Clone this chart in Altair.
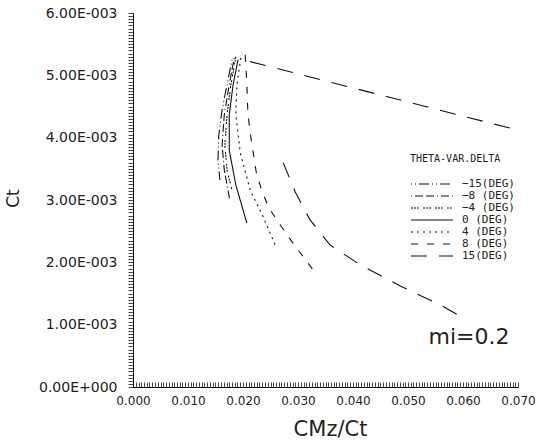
import altair as alt
import pandas as pd

# ---- data ----
series_labels = ["\u221215(DEG)", "\u22128\u00a0(DEG)", "\u22124\u00a0(DEG)",
                 "\u00a00\u00a0(DEG)", "\u00a04\u00a0(DEG)", "\u00a08\u00a0(DEG)", "\u00a015(DEG)"]

m15_x = [0.0180, 0.0171, 0.0162, 0.0156, 0.01545, 0.0158]
m15_y = [0.00525, 0.00485, 0.00445, 0.00404, 0.00364, 0.00332]
m8_x = [0.0184, 0.0175, 0.0166, 0.0162, 0.0166, 0.0176]
m8_y = [0.00528, 0.00485, 0.00437, 0.00388, 0.00348, 0.00300]
m4_x = [0.0187, 0.0178, 0.0171, 0.0167, 0.0171, 0.0180]
m4_y = [0.00530, 0.00485, 0.00437, 0.00388, 0.00348, 0.00316]
d0_x = [0.0191, 0.0182, 0.0175, 0.0175, 0.0187, 0.0207]
d0_y = [0.00525, 0.00485, 0.00437, 0.00380, 0.00324, 0.00263]
d4_x = [0.0196, 0.0189, 0.0187, 0.0195, 0.0213, 0.0235, 0.0260]
d4_y = [0.00528, 0.00485, 0.00437, 0.00376, 0.00316, 0.00276, 0.00225]
d8_x = [0.0204, 0.0207, 0.0209, 0.0215, 0.0224, 0.0233, 0.0246, 0.0266, 0.0285, 0.0306, 0.0329]
d8_y = [0.00533, 0.00485, 0.00437, 0.00396, 0.00345, 0.00318, 0.00289, 0.00262, 0.00238, 0.00213, 0.00186]
d15_upper_x = [0.0213, 0.0700]
d15_upper_y = [0.00522, 0.00412]
d15_lower_x = [0.0273, 0.0295, 0.0322, 0.0358, 0.0413, 0.0486, 0.0558, 0.0598]
d15_lower_y = [0.00360, 0.00313, 0.00268, 0.00228, 0.00196, 0.00162, 0.00132, 0.00112]

y_tick_labels = ["0.00E+000", "1.00E-003", "2.00E-003", "3.00E-003",
                 "4.00E-003", "5.00E-003", "6.00E-003"]
x_major = [0.0, 0.01, 0.02, 0.03, 0.04, 0.05, 0.06, 0.07]
x_tick_labels = ["0.000", "0.010", "0.020", "0.030", "0.040", "0.050", "0.060", "0.070"]

note_text = ["mi=0.2"]
note_x = [0.0611]
note_y = [0.00080]

# ---- build table ----
pieces = [
    (series_labels[0], "a", m15_x, m15_y),
    (series_labels[1], "a", m8_x, m8_y),
    (series_labels[2], "a", m4_x, m4_y),
    (series_labels[3], "a", d0_x, d0_y),
    (series_labels[4], "a", d4_x, d4_y),
    (series_labels[5], "a", d8_x, d8_y),
    (series_labels[6], "a", d15_upper_x, d15_upper_y),
    (series_labels[6], "b", d15_lower_x, d15_lower_y),
]
rows = []
for name, piece, xs, ys in pieces:
    for i, (xv, yv) in enumerate(zip(xs, ys)):
        rows.append({"series": name, "piece": name + piece, "idx": i, "x": xv, "y": yv})
df = pd.DataFrame(rows)

dashes = [[1, 3, 1, 3, 10, 3], [1, 3, 8, 3, 8, 3], [2, 1, 2, 1, 2, 4],
          [1, 0], [2, 4], [7, 9], [16, 12]]

# tick positions of the dense axis combs
y_ticks = [round(i * 0.00005, 6) for i in range(121)]
x_minor = [round(i * 0.0005, 6) for i in range(141)]

ylab_js = "[" + ",".join("'%s'" % s for s in y_tick_labels) + "]"
xlab_js = "[" + ",".join("'%s'" % s for s in x_tick_labels) + "]"
y_expr = ("abs(datum.value*1000 - round(datum.value*1000)) < 0.01 ? "
          + ylab_js + "[round(datum.value*1000)] : ''")
x_expr = xlab_js + "[round(datum.value*100)]"

x_scale = alt.Scale(domain=[0, 0.07], nice=False, zero=False)
y_scale = alt.Scale(domain=[0, 0.006], nice=False, zero=False)

x_axis_main = alt.Axis(orient="bottom", title="CMz/Ct", values=x_major, labelExpr=x_expr,
                       tickCount=50,
                       labelOverlap=False, labelFlush=False, labelFontSize=12,
                       labelFont="DejaVu Sans", labelColor="#222",
                       tickSize=0, labelPadding=8,
                       titleFontSize=21, titleFont="DejaVu Sans", titleFontWeight="normal",
                       titleColor="#222",
                       titleX=197, titleY=42, titleBaseline="middle",
                       domain=True, domainColor="black", domainWidth=1, grid=False)
y_axis_main = alt.Axis(orient="left", title="Ct", values=y_ticks, labelExpr=y_expr,
                       tickCount=1000,
                       labelOverlap=False, labelFlush=False, labelFontSize=14,
                       labelFont="DejaVu Sans", labelColor="#222",
                       tickSize=5, tickColor="#333", tickWidth=0.9, labelPadding=11,
                       titleFontSize=17, titleFont="DejaVu Sans", titleFontWeight="normal",
                       titleColor="#222",
                       titleX=-120, titleY=185, titleBaseline="middle",
                       domain=True, domainColor="black", domainWidth=1, grid=False)

lines = alt.Chart(df).mark_line(color="#111", strokeWidth=1.1).encode(
    x=alt.X("x:Q", scale=x_scale, axis=x_axis_main),
    y=alt.Y("y:Q", scale=y_scale, axis=y_axis_main),
    strokeDash=alt.StrokeDash("series:N",
                              scale=alt.Scale(domain=series_labels, range=dashes),
                              sort=series_labels,
                              legend=alt.Legend(title="THETA-VAR.DELTA", orient="none",
                                                legendX=277, legendY=141,
                                                symbolType="stroke", symbolSize=1764,
                                                clipHeight=12,
                                                symbolStrokeColor="#111", symbolStrokeWidth=1.1,
                                                labelFont="DejaVu Sans Mono", labelFontSize=11,
                                                labelColor="#222",
                                                labelOffset=8, rowPadding=0,
                                                titleFont="DejaVu Sans Mono", titleFontSize=10,
                                                titleColor="#222",
                                                titleFontWeight="normal", titlePadding=14)),
    detail="piece:N",
    order="idx:Q",
)

note_df = pd.DataFrame({"t": note_text, "x": note_x, "y": note_y})
note = alt.Chart(note_df).mark_text(fontSize=22, font="DejaVu Sans", color="#222",
                                    align="center", baseline="middle").encode(
    x=alt.X("x:Q", scale=x_scale,
            axis=alt.Axis(orient="top", offset=-374, values=x_minor, tickCount=1000,
                          labels=False, title=None, tickSize=5, tickColor="#333",
                          tickWidth=0.9, domain=False, grid=False)),
    y=alt.Y("y:Q", scale=y_scale, axis=y_axis_main),
    text="t:N")

chart = alt.layer(lines, note).resolve_axis(x="independent").properties(
    width=385, height=374,
    padding={"left": 133, "top": 13, "right": 28, "bottom": 57},
    autosize=alt.AutoSizeParams(type="none"),
    background="white",
).configure_view(stroke=None)

chart.save("out.html", embed_options={"renderer": "svg", "actions": False})
